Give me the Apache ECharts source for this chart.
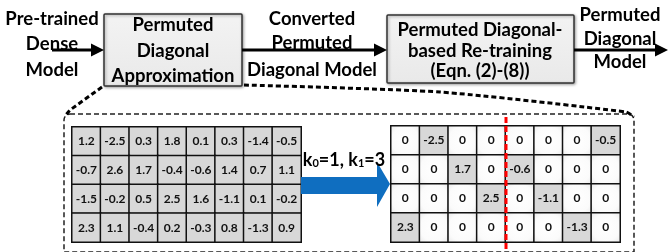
<!DOCTYPE html>
<html>
<head>
<meta charset="utf-8">
<script src="https://cdn.jsdelivr.net/npm/echarts@6/dist/echarts.min.js"></script>
<style>
  html, body { margin: 0; padding: 0; background: #fff; }
  #chart { width: 668px; height: 252px; }
</style>
</head>
<body>
<div id="chart"></div>
<script>
// matrix values, row by row (top row first)
const denseRows = [
  [1.2, -2.5, 0.3, 1.8, 0.1, 0.3, -1.4, -0.5],
  [-0.7, 2.6, 1.7, -0.4, -0.6, 1.4, 0.7, 1.1],
  [-1.5, -0.2, 0.5, 2.5, 1.6, -1.1, 0.1, -0.2],
  [2.3, 1.1, -0.4, 0.2, -0.3, 0.8, -1.3, 0.9]
];
const diagRows = [
  [0, -2.5, 0, 0, 0, 0, 0, -0.5],
  [0, 0, 1.7, 0, -0.6, 0, 0, 0],
  [0, 0, 0, 2.5, 0, -1.1, 0, 0],
  [2.3, 0, 0, 0, 0, 0, -1.3, 0]
];
const colCats = ['0', '1', '2', '3', '4', '5', '6', '7'];
const rowCats = ['0', '1', '2', '3'];

const FONT = 'Lato, "Open Sans", sans-serif';
const grayCell = '#d8d8d8';
const whiteCell = {
  type: 'radial', x: 0.5, y: 0.5, r: 0.75,
  colorStops: [{ offset: 0, color: '#ffffff' }, { offset: 0.6, color: '#fbfbfb' }, { offset: 1, color: '#e4e4e4' }]
};

function toCells(rows, shadeZero) {
  const out = [];
  rows.forEach((row, r) => {
    row.forEach((v, c) => {
      out.push({
        value: [c, r, v],
        itemStyle: { color: (shadeZero && v === 0) ? whiteCell : grayCell }
      });
    });
  });
  return out;
}

const chart = echarts.init(document.getElementById('chart'), null, { renderer: 'canvas' });

// helpers for diagram pieces
function txt(x, y, s, size) {
  return { type: 'text', x: x, y: y, z: 20, style: {
    text: s, fill: '#000', font: 'bold ' + (size || 18.5) + 'px ' + FONT,
    textAlign: 'center', textVerticalAlign: 'middle' } };
}
function arrow(x1, x2, y) {
  return [
    { type: 'line', z: 5, shape: { x1: x1, y1: y, x2: x2 - 11, y2: y }, style: { stroke: '#000', lineWidth: 3 } },
    { type: 'polygon', z: 5, shape: { points: [[x2 - 13, y - 6.5], [x2, y], [x2 - 13, y + 6.5]] }, style: { fill: '#000' } }
  ];
}
function box(x, y, w, h) {
  return { type: 'rect', z: 4, shape: { x: x, y: y, width: w, height: h, r: 1 },
    style: { fill: { type: 'linear', x: 0, y: 0, x2: 0, y2: 1,
      colorStops: [{ offset: 0, color: '#f3f3f3' }, { offset: 1, color: '#e9e9e9' }] },
      stroke: '#333', lineWidth: 1.5, shadowBlur: 3, shadowOffsetX: 1, shadowOffsetY: 1, shadowColor: 'rgba(0,0,0,0.35)' } };
}

const graphics = [
  // dashed zoom-out region
  { type: 'rect', z: 1, shape: { x: 64, y: 114, width: 570, height: 138, r: [6, 6, 0, 0] },
    style: { fill: null, stroke: '#222', lineWidth: 1.5, lineDash: [5, 3] } },
  { type: 'polyline', z: 2, shape: { points: [[102, 87], [70, 110], [65, 116]] },
    style: { stroke: '#000', lineWidth: 3, lineDash: [5, 3], fill: null } },
  { type: 'polyline', z: 2, shape: { points: [[244, 85], [440, 92], [626, 112], [634, 117]] , smooth: 0.2 },
    style: { stroke: '#000', lineWidth: 3, lineDash: [5, 3], fill: null } },

  box(104, 14, 138, 72),
  box(387, 15, 187, 68),
  ...arrow(52, 104, 50),
  ...arrow(242, 387, 50),
  ...arrow(574, 668, 50),

  txt(52, 19, 'Pre-trained'),
  txt(52, 44, 'Dense'),
  txt(52, 70, 'Model'),
  txt(173, 25, 'Permuted'),
  txt(173, 51, 'Diagonal'),
  txt(173, 76, 'Approximation'),
  txt(312, 19, 'Converted'),
  txt(312, 43, 'Permuted'),
  txt(312, 70, 'Diagonal Model'),
  txt(480, 30, 'Permuted Diagonal-'),
  txt(480, 51, 'based Re-training'),
  txt(480, 71, '(Eqn. (2)-(8))'),
  txt(620, 15, 'Permuted'),
  txt(620, 39, 'Diagonal'),
  txt(620, 62, 'Model'),

  // blue transform arrow
  { type: 'polygon', z: 6, shape: { points: [[301, 177], [377, 177], [377, 162], [390, 184], [377, 207], [377, 194], [301, 194]] },
    style: { fill: '#0f6ec0' } },
  { type: 'text', x: 344, y: 158, z: 20, style: {
    text: '{k|k}{s|0}{k|=1, k}{s|1}{k|=3}',
    textAlign: 'center', textVerticalAlign: 'middle',
    rich: {
      k: { font: 'bold 18px ' + FONT, fill: '#000', verticalAlign: 'bottom', lineHeight: 22 },
      s: { font: 'bold 11px ' + FONT, fill: '#000', verticalAlign: 'bottom', lineHeight: 22, padding: [6, 0, 0, 0] }
    } } },

  // red partition line
  { type: 'line', z: 100, shape: { x1: 506, y1: 117, x2: 506, y2: 252 },
    style: { stroke: '#ff0000', lineWidth: 3, lineDash: [6, 3] } }
];

const axisX = (gi) => ({ type: 'category', gridIndex: gi, data: colCats, show: false });
const axisY = (gi) => ({ type: 'category', gridIndex: gi, data: rowCats, inverse: true, show: false });

const cellLabel = {
  show: true,
  formatter: (p) => String(p.value[2]),
  fontFamily: FONT, fontWeight: 'bold', fontSize: 12, color: '#111'
};

chart.setOption({
  animation: false,
  backgroundColor: '#fff',
  grid: [
    { left: 72, top: 127, width: 229, height: 115, show: true, borderColor: '#111', borderWidth: 2, backgroundColor: 'transparent' },
    { left: 391, top: 126, width: 229, height: 116, show: true, borderColor: '#111', borderWidth: 2, backgroundColor: 'transparent' }
  ],
  xAxis: [axisX(0), axisX(1)],
  yAxis: [axisY(0), axisY(1)],
  series: [
    { type: 'heatmap', xAxisIndex: 0, yAxisIndex: 0, data: toCells(denseRows, false),
      itemStyle: { borderColor: '#111', borderWidth: 1.5 }, label: cellLabel, emphasis: { disabled: true } },
    { type: 'heatmap', xAxisIndex: 1, yAxisIndex: 1, data: toCells(diagRows, true),
      itemStyle: { borderColor: '#111', borderWidth: 1.5 }, label: cellLabel, emphasis: { disabled: true } }
  ],
  graphic: graphics
});
</script>
</body>
</html>
